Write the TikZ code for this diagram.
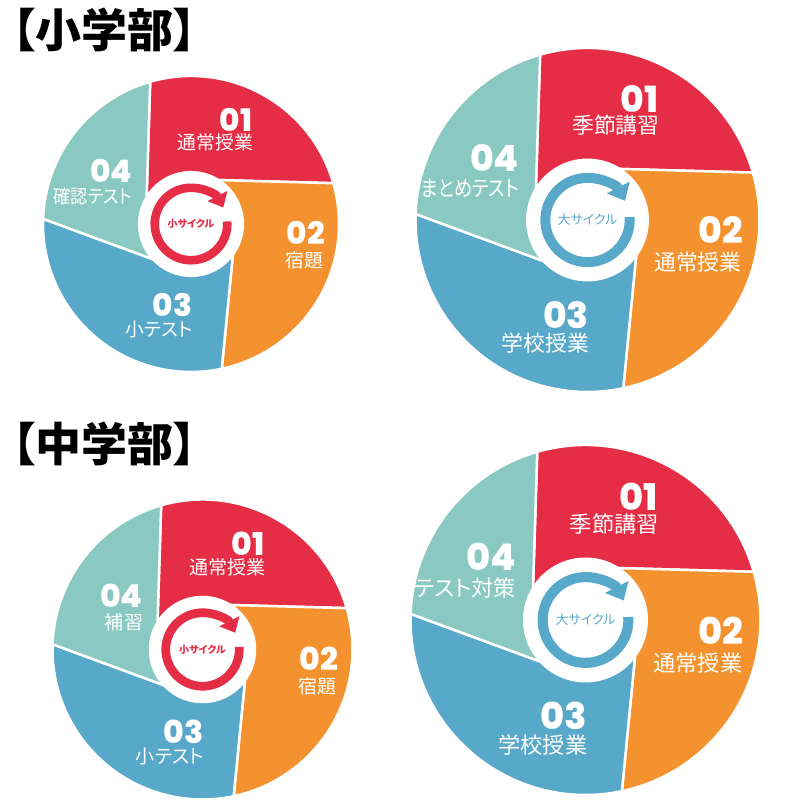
\documentclass[tikz,border=0pt]{standalone}
\usepackage{fontspec}
\setmainfont{Noto Sans CJK JP}[RawFeature=+palt]
\newfontfamily\numfont{Poppins}[BoldFont={Poppins ExtraBold}]
\usetikzlibrary{arrows.meta}
\definecolor{cRed}{HTML}{E52E45}
\definecolor{cOrange}{HTML}{F4922F}
\definecolor{cBlue}{HTML}{58A8CA}
\definecolor{cTeal}{HTML}{89C9C1}

\tikzset{
  wedge/.style={draw=white, line width=2.5pt, line join=round},
  numtext/.style={text=white, inner sep=0pt, anchor=base east,
    font=\numfont\bfseries\fontsize{\nsize pt}{\nsize pt}\selectfont},
  labtext/.style={text=white, inner sep=0pt, anchor=base east,
    font=\fontsize{\lsize pt}{\lsize pt}\selectfont},
  heading/.style={inner sep=0pt, anchor=west, text height=34pt, text depth=2pt,
    font=\bfseries\fontsize{46pt}{46pt}\selectfont}
}
\newcommand{\narrow}[2]{{\addfontfeature{FakeStretch=#1}#2}}

% #1 centre, #2 radius, #3 arrow colour, #4 centre text, #5-#8 labels 01..04
\newcommand{\pinwheel}[8]{%
  \pgfmathsetmacro\R{#2}%
  \pgfmathsetmacro\ri{0.35*#2}%
  \pgfmathsetmacro\rr{0.245*#2}%
  \pgfmathsetmacro\rw{0.058*#2}%
  \pgfmathsetmacro\nsize{0.21*#2}%
  \pgfmathsetmacro\lsize{0.127*#2}%
  \begin{scope}[shift={(#1)}]
    %%% WEDGES %%%
    \filldraw[wedge, fill=cRed] (149:\ri) -- (106:\R) arc[start angle=106, end angle=16, radius=\R]
      -- (58:\ri) arc[start angle=58, end angle=149, radius=\ri] -- cycle;
    \filldraw[wedge, fill=cOrange] (58:\ri) -- (16:\R) arc[start angle=16, end angle=-78, radius=\R]
      -- (-36:\ri) arc[start angle=-36, end angle=58, radius=\ri] -- cycle;
    \filldraw[wedge, fill=cBlue] (-36:\ri) -- (-78:\R) arc[start angle=-78, end angle=-182, radius=\R]
      -- (-137:\ri) arc[start angle=-137, end angle=-36, radius=\ri] -- cycle;
    \filldraw[wedge, fill=cTeal] (223:\ri) -- (178:\R) arc[start angle=178, end angle=106, radius=\R]
      -- (149:\ri) arc[start angle=149, end angle=223, radius=\ri] -- cycle;

    %%% CYCLE ARROW %%%
    \draw[#3, line width=\rw pt, -{Triangle[width=0pt 2.5, length=0pt 1.5]}]
      (4:\rr) arc[start angle=4, end angle=-333, radius=\rr];
    \node[inner sep=0pt, text=#3] (#1-c) at (0,0) {#4};

    %%% LABELS %%%
    \node[numtext] (#1-n1) at ({0.415*\R},{0.625*\R}) {01};
    \node[labtext] (#1-l1) at ({0.42*\R},{0.50*\R}) {#5};
    \node[numtext] (#1-n2) at ({0.905*\R},{-0.138*\R}) {02};
    \node[labtext] (#1-l2) at ({0.897*\R},{-0.296*\R}) {#6};
    \node[numtext] (#1-n3) at ({0.01*\R},{-0.628*\R}) {03};
    \node[labtext] (#1-l3) at ({0.012*\R},{-0.762*\R}) {#7};
    \node[numtext] (#1-n4) at ({-0.398*\R},{0.28*\R}) {04};
    \node[labtext] (#1-l4) at ({-0.395*\R},{0.136*\R}) {#8};
  \end{scope}}

\begin{document}
\begin{tikzpicture}[x=1pt, y=1pt]
  \useasboundingbox (0,0) rectangle (800,800);

  %%% HEADINGS %%%
  \node[heading] (headE) at (12,768) {【小学部】};
  \node[heading] (headJ) at (12,354) {【中学部】};

  %%% CENTRES %%%
  \coordinate (pA) at (191,576);
  \coordinate (pB) at (587.5,580);
  \coordinate (pC) at (202.5,150.5);
  \coordinate (pD) at (585.5,180);

  %%% PIES %%%
  \pinwheel{pA}{148}{cRed}{\bfseries\fontsize{10pt}{10pt}\selectfont 小サイクル}
    {通常授業}{宿題}{小テスト}{\narrow{0.92}{確認テスト}}
  \pinwheel{pB}{172}{cBlue}{\fontsize{13pt}{13pt}\selectfont 大サイクル}
    {季節講習}{通常授業}{学校授業}{\narrow{0.84}{まとめテスト}}
  \pinwheel{pC}{150}{cRed}{\bfseries\fontsize{10pt}{10pt}\selectfont 小サイクル}
    {通常授業}{宿題}{小テスト}{補習}
  \pinwheel{pD}{175}{cBlue}{\fontsize{13pt}{13pt}\selectfont 大サイクル}
    {季節講習}{通常授業}{学校授業}{テスト対策}
\end{tikzpicture}
\end{document}
